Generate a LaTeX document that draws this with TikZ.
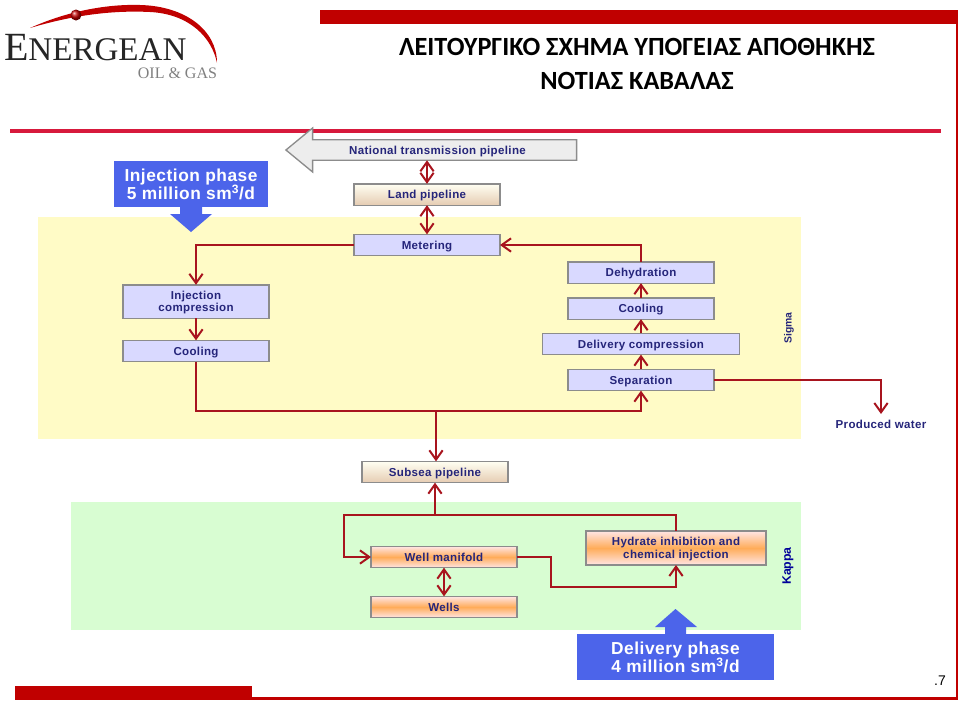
\documentclass[tikz,border=0pt]{standalone}
\usepackage{xcolor}
\usepackage{fontspec}
\setmainfont{Liberation Sans}
\newfontfamily\titlefont{Carlito}
\newfontfamily\logofont{Liberation Serif}
\newfontfamily\boxfont[LetterSpace=3]{Liberation Sans}
\usetikzlibrary{arrows.meta,shapes.arrows}
\definecolor{framered}{HTML}{C00000}
\definecolor{linered}{HTML}{D7193C}
\definecolor{flowred}{HTML}{A8141E}
\definecolor{boxnavy}{HTML}{25257A}
\definecolor{phaseblue}{HTML}{4C64EA}
\definecolor{sigmayellow}{HTML}{FFFBC6}
\definecolor{kappagreen}{HTML}{D8FDD2}

\begin{document}
\begin{tikzpicture}[
    x=0.75pt, y=-0.75pt,
    every node/.style={align=center, font=\boxfont\bfseries\fontsize{8.65}{9.3}\selectfont, text=boxnavy, outer sep=0pt, inner sep=0pt},
    stagebox/.style={draw=black!45, line width=1pt, minimum width=109.5pt, minimum height=16pt, text depth=0pt},
    sigmabox/.style={stagebox, fill=blue!15!white},
    pipebox/.style={stagebox, top color=yellow!5!white, bottom color=brown!40!white},
    wellbox/.style={stagebox, top color=red!10!white, bottom color=red!10!white, middle color=orange!65!white},
    phasebox/.style={fill=phaseblue, text=white, font=\boxfont\bfseries\fontsize{13}{13.6}\selectfont, minimum width=115.5pt, minimum height=34.5pt},
    flow/.style={draw=flowred, line width=1.4pt, -{Straight Barb[length=7pt,width=10pt,line width=1.5pt]}},
    flowboth/.style={flow, {Straight Barb[length=7pt,width=10pt,line width=1.5pt]}-{Straight Barb[length=7pt,width=10pt,line width=1.5pt]}},
    flowplain/.style={draw=flowred, line width=1.4pt}
]
\useasboundingbox (0,0) rectangle (960,704);

% frame and header rule
\fill[framered] (320,10) rectangle (958,24);
\fill[framered] (15,686) rectangle (252,700);
\draw[framered, line width=1.6pt] (252,698.5) -- (957,698.5) -- (957,24);
\fill[linered] (10,129) rectangle (941,133);

% logo
\fill[framered] (30,28) .. controls (70,10) and (110,4) .. (140,5) .. controls (185,6) and (217,30) .. (217,63)
    .. controls (212,38) and (190,14) .. (150,12) .. controls (110,10) and (70,16) .. (30,28) -- cycle;
\shade[ball color=framered] (76,15) circle (5.5);
\node[anchor=base west, text=black!85, font=\logofont\fontsize{30}{30}\selectfont] (logoname) at (4,60) {E\fontsize{24.8}{24.8}\selectfont NERGEAN};
\node[anchor=base east, text=black!50, font=\logofont\fontsize{12}{12}\selectfont] (logosub) at (217,78) {OIL \& GAS};

% title
\node[text=black, font=\titlefont\bfseries\fontsize{19.7}{26.2}\selectfont] (title) at (637,64) {ΛΕΙΤΟΥΡΓΙΚΟ ΣΧΗΜΑ ΥΠΟΓΕΙΑΣ ΑΠΟΘΗΚΗΣ\\ΝΟΤΙΑΣ ΚΑΒΑΛΑΣ};

% platform areas
\fill[sigmayellow] (38,217) rectangle (801,439);
\fill[kappagreen] (71,502) rectangle (801,630);
\node[rotate=90, text=boxnavy, font=\bfseries\fontsize{7.8}{9}\selectfont] (sigma) at (789,328) {Sigma};
\node[rotate=90, text=blue!60!black, font=\bfseries\fontsize{9.2}{9}\selectfont] (kappa) at (788,566) {Kappa};

% export side
\node[single arrow, shape border rotate=180, draw=black!45, line width=1pt, fill=black!7, minimum width=33pt, minimum height=218pt,
    inner ysep=3.4pt, text depth=0pt, single arrow head extend=8pt, single arrow tip angle=79] (national) at (437.5,150) {National transmission pipeline};
\node[pipebox] (land) at (427,194.5) {Land pipeline};
\node[sigmabox] (metering) at (427,245) {Metering};

% Sigma, injection train
\node[sigmabox, minimum height=25pt] (injcomp) at (196,301.5) {Injection\\compression};
\node[sigmabox] (injcool) at (196,351) {Cooling};

% Sigma, delivery train
\node[sigmabox] (dehydration) at (641,272.5) {Dehydration};
\node[sigmabox] (delcool) at (641,308.5) {Cooling};
\node[sigmabox, minimum width=148pt] (delcomp) at (641,344) {Delivery compression};
\node[sigmabox] (separation) at (641,380) {Separation};
\node (water) at (881,424) {Produced water};
\coordinate (waterend) at (881,414);

\node[pipebox] (subsea) at (435,472) {Subsea pipeline};

% Kappa
\node[wellbox] (manifold) at (444,557) {Well manifold};
\node[wellbox] (wells) at (444,607) {Wells};
\node[wellbox, minimum width=135pt, minimum height=25.5pt] (hydrate) at (676,548) {Hydrate inhibition and\\chemical injection};

% phase labels
\node[phasebox] (injphase) at (191,184) {Injection phase\\5 million sm\textsuperscript{3}/d};
\node[phasebox, minimum width=148pt] (delphase) at (675.5,657) {Delivery phase\\4 million sm\textsuperscript{3}/d};
\fill[phaseblue] (180,207) -- (180,214) -- (170,214) -- (191,232) -- (212,214) -- (202,214) -- (202,207) -- cycle;
\fill[phaseblue] (665,634) -- (665,627) -- (655,627) -- (675.5,609) -- (697,627) -- (686,627) -- (686,634) -- cycle;

% flows
\coordinate (sigmajoin) at (436,411);
\coordinate (kappajoin) at (435,515);
\draw[flowboth] (land.north) -- (land.north |- national.south);
\draw[flowboth] (metering.north) -- (land.south);
\draw[flow] (metering.west) -| (injcomp.north);
\draw[flow] (injcomp.south) -- (injcool.north);
\draw[flowplain] (injcool.south) |- (sigmajoin);
\draw[flow] (sigmajoin) -| (separation.south);
\draw[flow] (sigmajoin) -- (sigmajoin |- subsea.north);
\draw[flow] (separation.north) -- (delcomp.south);
\draw[flow] (delcomp.north) -- (delcool.south);
\draw[flow] (delcool.north) -- (dehydration.south);
\draw[flow] (dehydration.north) |- (metering.east);
\draw[flow] (separation.east) -| (waterend);
\draw[flow] (kappajoin) -- (subsea.south);
\draw[flowplain] (kappajoin) -| (hydrate.north);
\draw[flow] (kappajoin) -- (344,515) |- (manifold.west);
\draw[flowboth] (manifold.south) -- (wells.north);
\draw[flow] (manifold.east) -- (551,557) |- (676,587) -- (hydrate.south);

% page number
\node[text=black, font=\fontsize{10.5}{12}\selectfont] (pagenum) at (940,681) {.7};

\end{tikzpicture}
\end{document}
